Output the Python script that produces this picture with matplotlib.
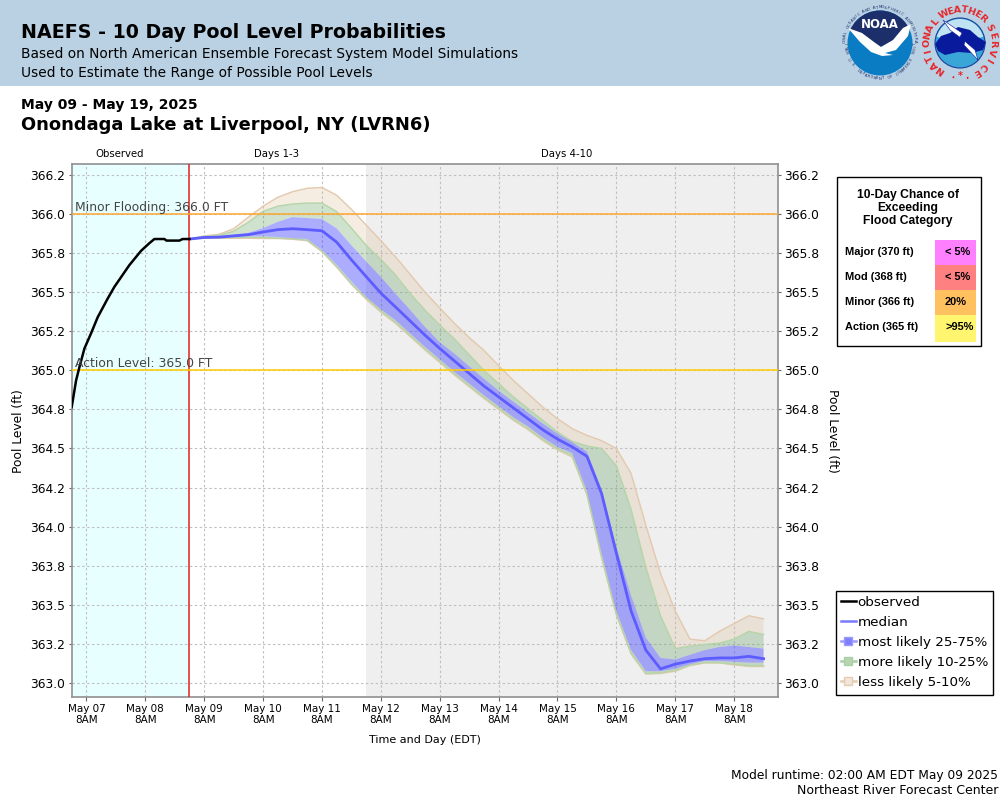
# -*- coding: utf-8 -*-
import numpy as np
import pandas as pd
import matplotlib
matplotlib.use("Agg")
import matplotlib.pyplot as plt
from matplotlib.lines import Line2D
from matplotlib.patches import Circle, Polygon, Rectangle, Wedge

start = pd.Timestamp("2025-05-07 08:00")

# observed stage, hours after May 07 8AM
obs_hours = [-6, -4.2, -2.86, -0.8, 1.9, 4.6, 8.7, 11.4, 17.5, 22.3,
             25.7, 27.7, 31.8, 32.6, 37.9, 39.2, 42]
obs_level = [364.765, 364.936, 365.02, 365.14, 365.237, 365.34, 365.46, 365.534, 365.673, 365.765,
             365.814, 365.84, 365.84, 365.83, 365.83, 365.84, 365.84]

# ensemble percentiles, 6 hourly from the model run
fc_times = pd.date_range("2025-05-09 02:00", periods=40, freq="6h")
q95 = [365.84, 365.86, 365.87, 365.906, 365.98, 366.05, 366.107, 366.143, 366.165, 366.17,
       366.12, 366.03, 365.93, 365.83, 365.726, 365.613, 365.50, 365.40, 365.30, 365.21,
       365.128, 365.03, 364.936, 364.85, 364.765, 364.69, 364.627, 364.584, 364.55, 364.50,
       364.34, 364.01, 363.70, 363.46, 363.28, 363.27, 363.33, 363.38, 363.43, 363.41]
q90 = [365.84, 365.857, 365.863, 365.89, 365.947, 366.017, 366.05, 366.064, 366.07, 366.07,
       366.015, 365.91, 365.80, 365.71, 365.61, 365.49, 365.385, 365.29, 365.20, 365.10,
       365.00, 364.915, 364.83, 364.755, 364.68, 364.605, 364.545, 364.516, 364.50, 364.39,
       364.11, 363.74, 363.43, 363.22, 363.235, 363.246, 363.255, 363.28, 363.33, 363.31]
q75 = [365.84, 365.85, 365.855, 365.868, 365.88, 365.91, 365.95, 365.98, 365.974, 365.968,
       365.908, 365.80, 365.697, 365.598, 365.49, 365.385, 365.278, 365.18, 365.107, 365.026,
       364.947, 364.87, 364.80, 364.73, 364.66, 364.595, 364.54, 364.48, 364.24, 363.87,
       363.56, 363.29, 363.16, 363.15, 363.18, 363.21, 363.23, 363.24, 363.23, 363.22]
q50 = [365.84, 365.85, 365.852, 365.86, 365.868, 365.885, 365.90, 365.906, 365.90, 365.893,
       365.82, 365.707, 365.60, 365.494, 365.405, 365.315, 365.225, 365.14, 365.06, 364.98,
       364.90, 364.83, 364.76, 364.69, 364.62, 364.56, 364.51, 364.45, 364.21, 363.83,
       363.46, 363.21, 363.09, 363.12, 363.14, 363.155, 363.16, 363.16, 363.17, 363.155]
q25 = [365.84, 365.85, 365.85, 365.855, 365.857, 365.857, 365.853, 365.846, 365.84, 365.77,
       365.675, 365.568, 365.47, 365.39, 365.32, 365.235, 365.15, 365.07, 364.99, 364.915,
       364.84, 364.77, 364.70, 364.64, 364.57, 364.51, 364.47, 364.23, 363.83, 363.46,
       363.21, 363.075, 363.075, 363.09, 363.12, 363.14, 363.14, 363.135, 363.13, 363.13]
q10 = [365.84, 365.847, 365.849, 365.85, 365.85, 365.85, 365.846, 365.842, 365.833, 365.763,
       365.665, 365.556, 365.463, 365.38, 365.308, 365.223, 365.138, 365.058, 364.978, 364.903,
       364.828, 364.758, 364.688, 364.628, 364.558, 364.498, 364.455, 364.21, 363.805, 363.44,
       363.19, 363.06, 363.065, 363.08, 363.115, 363.13, 363.13, 363.12, 363.11, 363.11]
q05 = [365.84, 365.845, 365.845, 365.845, 365.845, 365.843, 365.843, 365.838, 365.829, 365.759,
       365.66, 365.55, 365.455, 365.372, 365.30, 365.215, 365.13, 365.05, 364.97, 364.895,
       364.82, 364.75, 364.68, 364.62, 364.55, 364.49, 364.445, 364.205, 363.80, 363.436,
       363.185, 363.057, 363.06, 363.075, 363.11, 363.128, 363.128, 363.115, 363.105, 363.105]

tick_days = pd.date_range("2025-05-07 08:00", periods=12, freq="D")
level_ticks = [363.0, 363.25, 363.5, 363.75, 364.0, 364.25, 364.5, 364.75, 365.0,
               365.25, 365.5, 365.75, 366.0, 366.25]

flood_rows = ["Major (370 ft)", "Mod (368 ft)", "Minor (366 ft)", "Action (365 ft)"]
flood_probs = ["< 5%", "< 5%", "20%", ">95%"]
flood_cols = ["#ff80ff", "#ff8080", "#ffc060", "#fff56e"]

HDR = "#b9d1e3"
BLUE, GREEN, TAN = "#3333ff", "#5f9f5f", "#d9b48f"
GREEN_EDGE, TAN_EDGE = "#b5d5a8", "#e3c9ae"


def arc_text(pg, s, cx, cy, r, a0, a1, outward=False, **kw):
    # letters spaced along a circle, angle in degrees (0 = top, clockwise)
    for ch, a in zip(s, np.linspace(a0, a1, len(s))):
        t = np.radians(a)
        rot = -a if (outward or abs(a) <= 90) else 180 - a
        pg.text(cx + r * np.sin(t), cy - r * np.cos(t), ch, rotation=rot,
                ha="center", va="center", rotation_mode="anchor", **kw)


def draw_logos(pg):
    # NOAA
    cx, cy = 880, 43
    pg.add_patch(Circle((cx, cy), 32.5, fc="#0a7cc4", ec="none"))
    navy = Circle((cx, cy), 32.5, fc="#1d2f6b", ec="none")
    pg.add_patch(navy)
    clip = Polygon([(840, 0), (920, 0), (920, 22), (905, 30), (892, 42), (880, 47),
                    (866, 38), (850, 30), (840, 26)], transform=pg.transData)
    navy.set_clip_path(clip)
    pg.add_patch(Polygon([(848, 28), (862, 33), (874, 42), (881, 47), (893, 40), (903, 28),
                          (911, 24), (908, 36), (896, 50), (885, 53), (893, 55), (882, 56),
                          (871, 52), (860, 42)], fc="white", ec="none"))
    pg.text(cx, 25, "NOAA", color="white", fontsize=8.5, fontweight="bold",
            ha="center", va="center")
    arc_text(pg, "NATIONAL OCEANIC AND ATMOSPHERIC ADMINISTRATION", cx, cy, 35.5, -105, 105,
             color="#1d2f6b", fontsize=2.8)
    arc_text(pg, "U.S. DEPARTMENT OF COMMERCE", cx, cy, 35.5, 242, 118,
             color="#1d2f6b", fontsize=2.8)
    # NWS
    cx, cy = 960, 43
    pg.add_patch(Circle((cx, cy), 25, fc="#3aa6d8", ec="#1b3f9c", lw=0.8))
    pg.add_patch(Wedge((cx, cy), 24, 195, 345, fc="#bfe3f2", ec="none"))
    pg.add_patch(Polygon([(935, 44), (941, 36), (950, 33), (958, 27), (970, 30), (978, 37),
                          (986, 42), (983, 50), (972, 53), (958, 52), (945, 55), (938, 51)],
                         fc="#0a1a9c", ec="none"))
    pg.add_patch(Polygon([(943, 20), (962, 33), (960, 37), (975, 50), (978, 60), (964, 45),
                          (965, 41), (950, 30)], fc="white", ec="#0a1a9c", lw=0.4))
    arc_text(pg, "NATIONAL", cx, cy, 33, -144, -50, outward=True, color="#e8252a",
             fontsize=6.8, fontweight="bold")
    arc_text(pg, "WEATHER", cx, cy, 33, -29, 43, outward=True, color="#e8252a",
             fontsize=6.8, fontweight="bold")
    arc_text(pg, "SERVICE", cx, cy, 33, 62, 150, outward=True, color="#e8252a",
             fontsize=6.8, fontweight="bold")
    arc_text(pg, ".*.", cx, cy, 33, 168, 192, color="#e8252a", fontsize=7, fontweight="bold")


####################### main #######################
fig = plt.figure(figsize=(10, 8), dpi=100)

# page layer in pixel coordinates for header, notes and the flood table
pg = fig.add_axes([0, 0, 1, 1], zorder=0)
pg.set_xlim(0, 1000)
pg.set_ylim(800, 0)
pg.axis("off")

pg.add_patch(Rectangle((0, 0), 1000, 86, fc=HDR, ec="none"))
pg.text(21, 33, "NAEFS - 10 Day Pool Level Probabilities", fontsize=13.7, fontweight="bold", va="center")
pg.text(21, 54, "Based on North American Ensemble Forecast System Model Simulations", fontsize=9.87, va="center")
pg.text(21, 73, "Used to Estimate the Range of Possible Pool Levels", fontsize=9.87, va="center")
draw_logos(pg)

pg.text(21, 105, "May 09 - May 19, 2025", fontsize=10, fontweight="bold", va="center")
pg.text(21, 125, "Onondaga Lake at Liverpool, NY (LVRN6)", fontsize=12.9, fontweight="bold", va="center")

pg.text(120, 154, "Observed", fontsize=7.3, ha="center", va="center")
pg.text(277, 154, "Days 1-3", fontsize=7.3, ha="center", va="center")
pg.text(567, 154, "Days 4-10", fontsize=7.3, ha="center", va="center")
pg.text(19, 431, "Pool Level (ft)", fontsize=8.8, rotation=90, ha="center", va="center")
pg.text(832, 431, "Pool Level (ft)", fontsize=8.8, rotation=-90, ha="center", va="center")
pg.text(425, 740, "Time and Day (EDT)", fontsize=8, ha="center", va="center")
pg.text(998, 775, "Model runtime: 02:00 AM EDT May 09 2025", fontsize=8.8, ha="right", va="center")
pg.text(998, 791, "Northeast River Forecast Center", fontsize=9, ha="right", va="center")

# flood category table
pg.add_patch(Rectangle((836.5, 176.5), 144, 169, fc="white", ec="black", lw=1))
pg.text(908, 208, "10-Day Chance of\nExceeding\nFlood Category", family="Liberation Sans",
        fontsize=8.7, fontweight="bold", ha="center", va="center", linespacing=1.15)
for i, (row, prob, col) in enumerate(zip(flood_rows, flood_probs, flood_cols)):
    y = 240 + 25 * i
    pg.add_patch(Rectangle((935, y), 41, 25 if i < 3 else 27, fc=col, ec="none"))
    pg.text(845, y + 12, row, family="Liberation Sans", fontsize=7.9, fontweight="bold", va="center")
    pg.text(945, y + 12, prob, family="Liberation Sans", fontsize=7.9, fontweight="bold", va="center")

# main plot
L, R, T, B = 71.7, 778.3, 164, 697
ax = fig.add_axes([L / 1000, 1 - B / 800, (R - L) / 1000, (B - T) / 800], zorder=1)
ax.set_xlim(pd.Timestamp("2025-05-07 02:00"), pd.Timestamp("2025-05-19 02:00"))
ax.set_ylim(362.91, 366.32)

ax.axvspan(pd.Timestamp("2025-05-07 02:00"), fc_times[0], fc="#e8ffff", ec="none", zorder=0)
ax.axvspan(pd.Timestamp("2025-05-12 02:00"), pd.Timestamp("2025-05-19 02:00"), fc="#efefef", ec="none", zorder=0)
ax.axvline(fc_times[0], color="#e02020", lw=1.1, zorder=3)

ax.set_xticks(tick_days)
ax.set_xticklabels([d.strftime("%b %d") + "\n8AM" for d in tick_days], fontsize=7.5, linespacing=1.1)
ax.set_yticks(level_ticks)
ax.set_yticklabels(["%.1f" % v for v in level_ticks], fontsize=8.8)
ax.tick_params(axis="y", right=True, labelright=True, color="#666666", length=2.5, pad=2)
ax.tick_params(axis="x", color="#666666", length=3, pad=2)
ax.grid(True, color="#c0c0c0", ls=(0, (2.2, 2.2)), lw=0.8, zorder=1)
ax.set_axisbelow(True)
for s in ax.spines.values():
    s.set_color("#909090")
    s.set_linewidth(1.2)

ax.fill_between(fc_times, q90, q95, fc=TAN, alpha=0.25, ec="none", zorder=2)
ax.fill_between(fc_times, q05, q10, fc=TAN, alpha=0.25, ec="none", zorder=2)
ax.fill_between(fc_times, q75, q90, fc=GREEN, alpha=0.3, ec="none", zorder=2)
ax.fill_between(fc_times, q10, q25, fc=GREEN, alpha=0.3, ec="none", zorder=2)
ax.fill_between(fc_times, q25, q75, fc=BLUE, alpha=0.4, ec="none", zorder=2.1)
ax.plot(fc_times, q95, color=TAN_EDGE, lw=1, zorder=2.05)
ax.plot(fc_times, q05, color=TAN_EDGE, lw=1, zorder=2.05)
ax.plot(fc_times, q90, color=GREEN_EDGE, lw=1, zorder=2.05)
ax.plot(fc_times, q10, color=GREEN_EDGE, lw=1, zorder=2.05)
ax.plot(fc_times, q50, color="#5c5cff", lw=2, zorder=2.5)
ax.plot(start + pd.to_timedelta(obs_hours, unit="h"), obs_level, color="black", lw=1.8, zorder=4)

ax.axhline(366.0, color="#ffa733", lw=1.1, zorder=3)
ax.axhline(365.0, color="#ffcc00", lw=1.1, zorder=3)
ax.text(pd.Timestamp("2025-05-07 03:20"), 366.0, "Minor Flooding: 366.0 FT",
        fontsize=8.9, color="#444444", va="bottom", zorder=5)
ax.text(pd.Timestamp("2025-05-07 03:20"), 365.0, "Action Level: 365.0 FT",
        fontsize=8.9, color="#444444", va="bottom", zorder=5)

handles = [
    Line2D([], [], color="black", lw=1.8),
    Line2D([], [], color="#7a7aff", lw=1.8),
    Line2D([], [], color="#9a9aff", lw=1.8, marker="s", ms=6, mfc="#8080ff", mec="#9a9aff"),
    Line2D([], [], color="#a8d0a8", lw=1.8, marker="s", ms=6, mfc="#b8d4b0", mec="#a8d0a8"),
    Line2D([], [], color="#e6ccb0", lw=1.8, marker="s", ms=6, mfc="#f0e6da", mec="#e6ccb0"),
]
leg = fig.legend(handles, ["observed", "median", "most likely 25-75%", "more likely 10-25%", "less likely 5-10%"],
                 loc="upper left", bbox_to_anchor=(835.5 / 1000, 1 - 590.5 / 800), borderaxespad=0,
                 fontsize=9.7, fancybox=False, framealpha=1, edgecolor="black", handlelength=1.1,
                 handletextpad=0.15, labelspacing=0.525, borderpad=0.4)
leg.get_frame().set_linewidth(1)

fig.savefig("out.png", dpi=100)
